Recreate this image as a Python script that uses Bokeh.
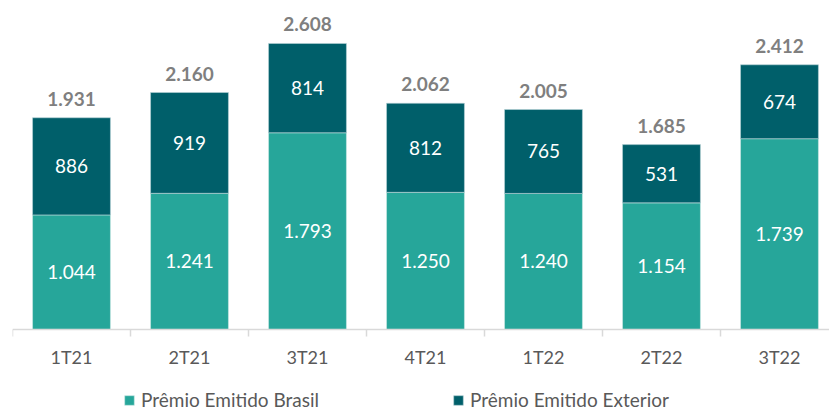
from bokeh.plotting import figure
from bokeh.models import ColumnDataSource, Range1d, FixedTicker, Legend, LegendItem, LinearAxis
from bokeh.core.properties import value
from bokeh.embed import file_html
from bokeh.resources import INLINE

categories = ["1T21", "2T21", "3T21", "4T21", "1T22", "2T22", "3T22"]
brasil = [1044, 1241, 1793, 1250, 1240, 1154, 1739]
exterior = [886, 919, 814, 812, 765, 531, 674]
totals = [1931, 2160, 2608, 2062, 2005, 1685, 2412]
series_names = ["Prêmio Emitido Brasil", "Prêmio Emitido Exterior"]

C_BR = "#26A69A"
C_EX = "#005F6A"
FONT = "Lato"

def fmt(v):
    return f"{v:,}".replace(",", ".")

xs = list(range(len(categories)))
src = ColumnDataSource(dict(
    x=xs,
    brasil=brasil,
    exterior=exterior,
    br_mid=[b / 2 for b in brasil],
    ex_mid=[b + e / 2 for b, e in zip(brasil, exterior)],
    br_lbl=[fmt(v) for v in brasil],
    ex_lbl=[fmt(v) for v in exterior],
    tot=totals,
    tot_lbl=[fmt(v) for v in totals],
))

p = figure(frame_width=817, frame_height=403, output_backend="svg", toolbar_location=None,
           x_range=Range1d(-0.5, 6.424), y_range=Range1d(-748, 2926),
           x_axis_location=None,
           min_border_left=12, min_border_right=0, min_border_top=8, min_border_bottom=0)
p.outline_line_color = None
p.xgrid.visible = False
p.ygrid.visible = False
p.yaxis.visible = False

r = p.vbar_stack(["brasil", "exterior"], x="x", width=0.66, source=src,
                 color=[C_BR, C_EX], line_color=["#CFE9E6", "#B9D3D6"], line_width=0.6)

common = dict(source=src, text_align="center", text_baseline="middle",
              text_font=value(FONT), text_font_size="19px")
p.text(x="x", y="br_mid", text="br_lbl", text_color="white", **common)
p.text(x="x", y="ex_mid", text="ex_lbl", text_color="white", **common)
p.text(x="x", y="tot", text="tot_lbl", text_color="#7F7F7F", text_font_style="bold",
       y_offset=-19, **common)

ax = LinearAxis(fixed_location=0)
ax.ticker = FixedTicker(ticks=xs, minor_ticks=[i - 0.5 for i in range(len(categories) + 1)])
ax.major_label_overrides = {i: c for i, c in enumerate(categories)}
ax.major_tick_out = 0
ax.major_tick_in = 0
ax.minor_tick_out = 7
ax.minor_tick_in = 0
ax.minor_tick_line_color = "#D9D9D9"
ax.axis_line_color = "#D9D9D9"
ax.axis_line_width = 1.5
ax.minor_tick_line_width = 1.5
ax.major_label_text_font = FONT
ax.major_label_text_font_size = "18px"
ax.major_label_text_color = "#595959"
ax.major_label_standoff = 10
p.add_layout(ax, "below")

legend = Legend(items=[LegendItem(label=series_names[0], renderers=[r[0]]),
                       LegendItem(label=series_names[1], renderers=[r[1]])],
                orientation="horizontal", location=(111, 0),
                label_text_font=FONT, label_text_font_size="19px", label_text_color="#595959",
                glyph_width=12, glyph_height=12, label_standoff=6, spacing=133,
                border_line_color=None, background_fill_alpha=0, padding=0, margin=0)
p.add_layout(legend)

open("out.html", "w").write(file_html(p, INLINE))
